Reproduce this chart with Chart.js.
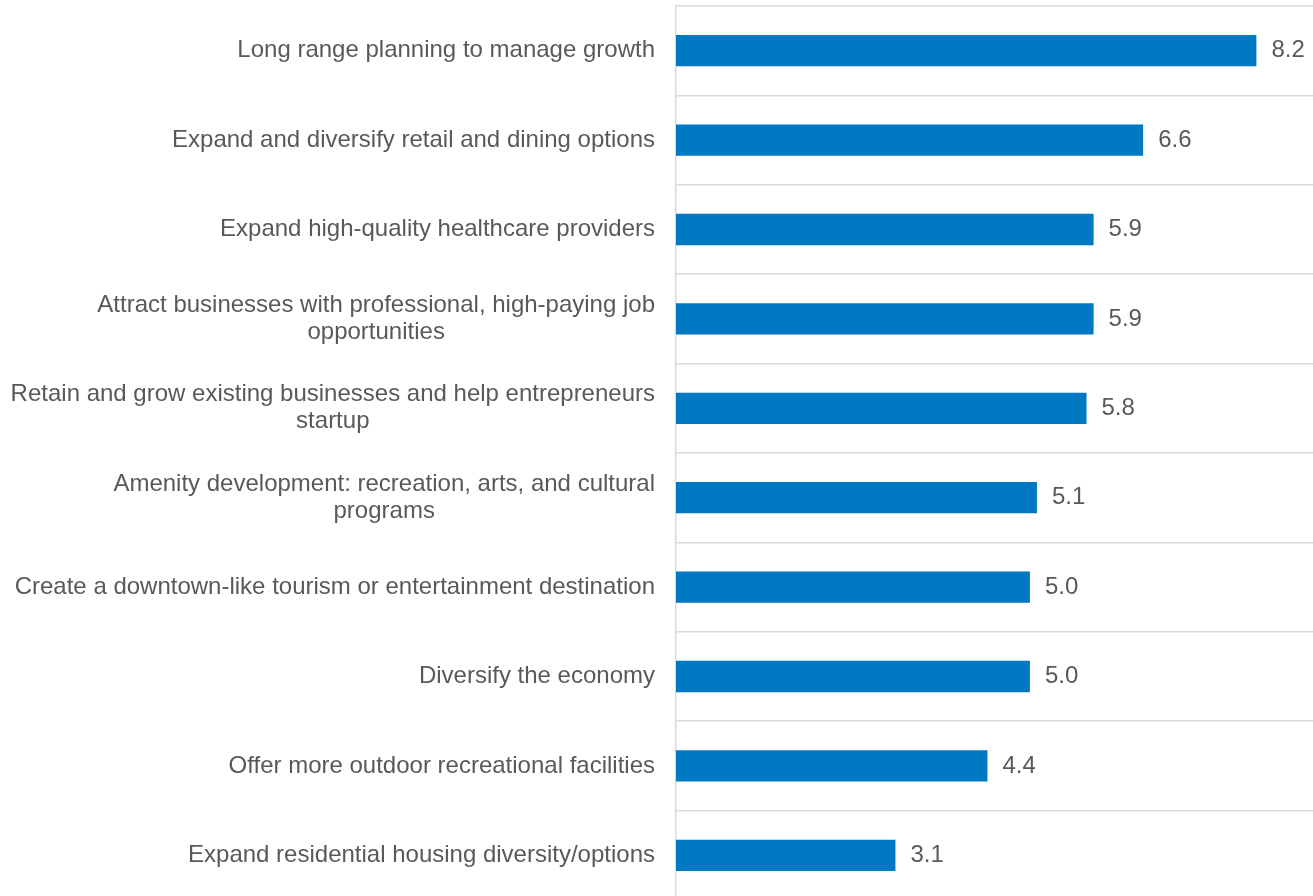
<!DOCTYPE html>
<html>
<head>
<meta charset="utf-8">
<script src="https://cdn.jsdelivr.net/npm/chart.js@4/dist/chart.umd.min.js"></script>
<style>
  html, body { margin: 0; padding: 0; background: #fff; overflow: hidden; }
  #wrap { width: 1313px; height: 900px; position: relative; }
</style>
</head>
<body>
<div id="wrap"><canvas id="chart"></canvas></div>
<script>
// Priority categories (each entry holds the wrapped lines of its label)
const categories = [
  ["Long range planning to manage growth"],
  ["Expand and diversify retail and dining options"],
  ["Expand high-quality healthcare providers"],
  ["Attract businesses with professional, high-paying job", "opportunities"],
  ["Retain and grow existing businesses and help entrepreneurs", "startup"],
  ["Amenity development: recreation, arts, and cultural", "programs"],
  ["Create a downtown-like tourism or entertainment destination"],
  ["Diversify the economy"],
  ["Offer more outdoor recreational facilities"],
  ["Expand residential housing diversity/options"]
];

// Average score per category
const scores = [8.2, 6.6, 5.9, 5.9, 5.8, 5.1, 5.0, 5.0, 4.4, 3.1];

const axisMin = 0;
const axisMax = 9;

const FONT = '24px "Liberation Sans", Arial, sans-serif';
const TEXT_COLOR = '#595959';
const GRID_COLOR = '#d9d9d9';

// Draws the category labels (block right-aligned, lines centred) and value labels
const labelPlugin = {
  id: 'labelPlugin',
  afterDraw(chart) {
    const ctx = chart.ctx;
    const yScale = chart.scales.y;
    const area = chart.chartArea;
    ctx.save();
    ctx.font = FONT;
    ctx.fillStyle = TEXT_COLOR;
    ctx.textBaseline = 'middle';

    ctx.textAlign = 'center';
    const lineHeight = 27;
    categories.forEach((lines, i) => {
      const cy = yScale.getPixelForValue(i);
      const w = Math.max(...lines.map(l => ctx.measureText(l).width));
      const cx = area.left - 21 - w / 2;
      lines.forEach((line, j) => {
        ctx.fillText(line, cx, cy + (j - (lines.length - 1) / 2) * lineHeight);
      });
    });

    ctx.textAlign = 'left';
    const meta = chart.getDatasetMeta(0);
    meta.data.forEach((bar, i) => {
      ctx.fillText(scores[i].toFixed(1), bar.x + 15, bar.y);
    });
    ctx.restore();
  }
};

new Chart(document.getElementById('chart'), {
  type: 'bar',
  data: {
    labels: categories,
    datasets: [{
      data: scores,
      backgroundColor: '#0079c2',
      borderWidth: 0,
      barPercentage: 0.35,
      categoryPercentage: 1.0
    }]
  },
  options: {
    indexAxis: 'y',
    responsive: true,
    maintainAspectRatio: false,
    animation: false,
    layout: { padding: { top: 6, right: 0, bottom: 0, left: 0 } },
    plugins: {
      legend: { display: false },
      tooltip: { enabled: false }
    },
    scales: {
      x: {
        display: false,
        min: axisMin,
        max: axisMax
      },
      y: {
        offset: true,
        grid: {
          offset: true,
          color: GRID_COLOR,
          lineWidth: 1.5,
          drawTicks: false
        },
        border: { display: true, color: GRID_COLOR, width: 1.5 },
        ticks: { display: false },
        afterFit(scale) { scale.width = 676; }
      }
    }
  },
  plugins: [labelPlugin]
});
</script>
</body>
</html>
